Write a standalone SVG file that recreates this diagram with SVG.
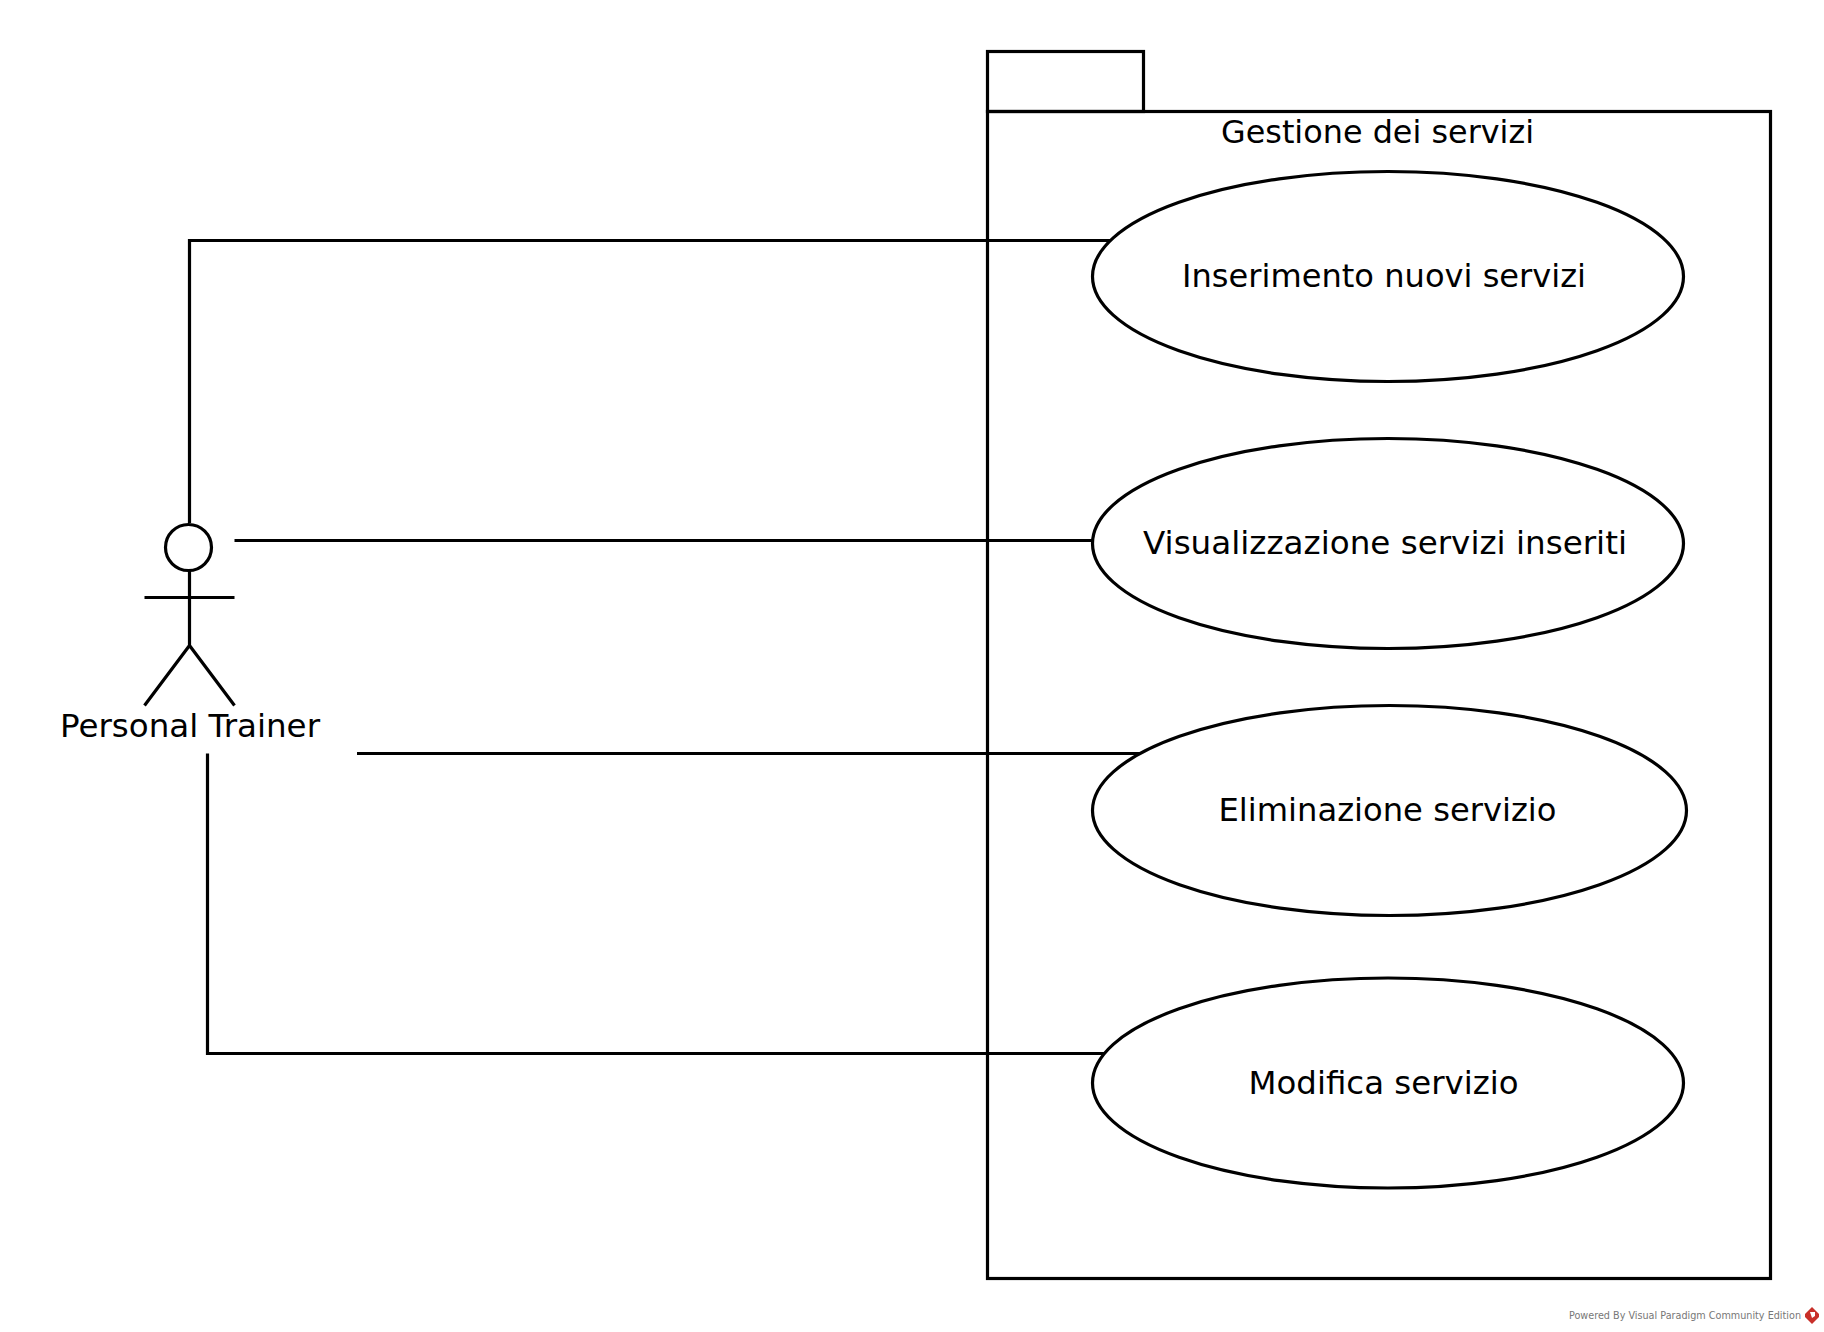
<svg xmlns="http://www.w3.org/2000/svg" width="1824" height="1332" viewBox="0 0 1824 1332">
<style>
.s{fill:none;stroke:#000;stroke-width:3.2}
.u{fill:#fff;stroke:#000;stroke-width:3.2}
text{font-family:"DejaVu Sans","Liberation Sans",sans-serif;font-size:32px;fill:#000;text-anchor:middle}
.w{font-size:10px;fill:#777;text-anchor:start}
</style>
<rect width="1824" height="1332" fill="#fff"/>
<g id="package">
<rect class="s" x="987.5" y="51.5" width="156" height="60"/>
<rect class="s" x="987.5" y="111.5" width="783" height="1167"/>
<text x="1377.500" y="143" textLength="313" lengthAdjust="spacingAndGlyphs">Gestione dei servizi</text>
</g>
<g id="connectors">
<path class="s" d="M189.5 523V240.5H1110"/>
<path class="s" d="M234.5 540.5H1092"/>
<path class="s" d="M357 753.5H1140"/>
<path class="s" d="M207.5 753.5V1053.5H1104"/>
</g>
<g id="actor">
<circle class="s" cx="188.5" cy="547.5" r="23"/>
<path class="s" d="M189.5 570.5V645.5M144.500 597.500H234.500M144.500 705.500L189.500 645.500L234.500 705.500"/>
<text x="190" y="737" textLength="260" lengthAdjust="spacingAndGlyphs">Personal Trainer</text>
</g>
<g id="uc1">
<ellipse class="u" cx="1388" cy="276.500" rx="295.500" ry="105"/>
<text x="1384" y="287" textLength="404" lengthAdjust="spacingAndGlyphs">Inserimento nuovi servizi</text>
</g>
<g id="uc2">
<ellipse class="u" cx="1388" cy="543.500" rx="295.500" ry="105"/>
<text x="1385" y="554" textLength="484" lengthAdjust="spacingAndGlyphs">Visualizzazione servizi inseriti</text>
</g>
<g id="uc3">
<ellipse class="u" cx="1389.500" cy="810.500" rx="297" ry="105"/>
<text x="1387.500" y="821" textLength="338" lengthAdjust="spacingAndGlyphs">Eliminazione servizio</text>
</g>
<g id="uc4">
<ellipse class="u" cx="1388" cy="1083" rx="295.500" ry="105"/>
<text x="1383.500" y="1094" textLength="270" lengthAdjust="spacingAndGlyphs">Modifica servizio</text>
</g>
<g id="watermark">
<text class="w" x="1569" y="1319" textLength="232" lengthAdjust="spacingAndGlyphs">Powered By Visual Paradigm Community Edition</text>
<path d="M1812 1307L1819 1314L1819 1317L1812 1324L1805 1317L1805 1314Z" fill="#c8302a"/>
<path d="M1810 1312L1815 1312L1815 1316L1812 1318Z" fill="#fff"/>
</g>
</svg>
